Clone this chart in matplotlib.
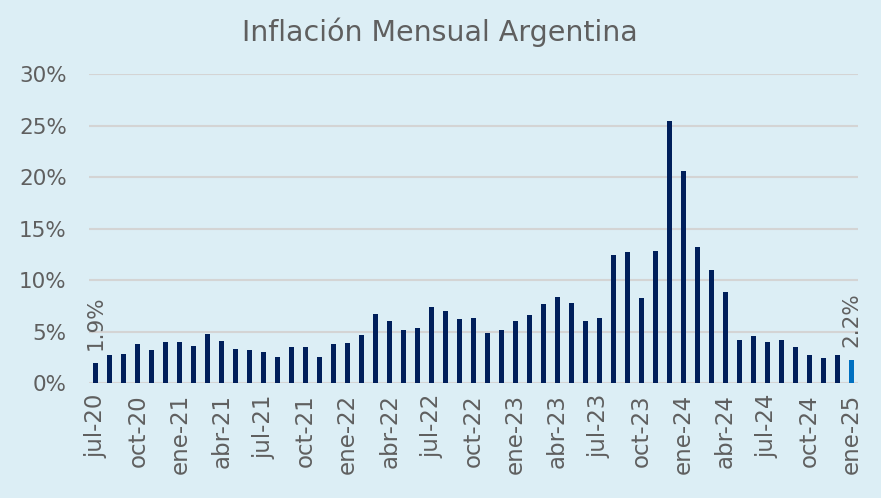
import matplotlib.pyplot as plt
import numpy as np

meses = ['ene', 'feb', 'mar', 'abr', 'may', 'jun', 'jul', 'ago', 'sep', 'oct', 'nov', 'dic']
# monthly CPI, jul-20 .. ene-25 (%)
inflacion = [1.9, 2.7, 2.8, 3.8, 3.2, 4.0,
             4.0, 3.6, 4.8, 4.1, 3.3, 3.2, 3.0, 2.5, 3.5, 3.5, 2.5, 3.8,
             3.9, 4.7, 6.7, 6.0, 5.1, 5.3, 7.4, 7.0, 6.2, 6.3, 4.9, 5.1,
             6.0, 6.6, 7.7, 8.4, 7.8, 6.0, 6.3, 12.4, 12.7, 8.3, 12.8, 25.5,
             20.6, 13.2, 11.0, 8.8, 4.2, 4.6, 4.0, 4.2, 3.5, 2.7, 2.4, 2.7,
             2.2]
etiquetas = []
for i in range(len(inflacion)):
    m = (6 + i) % 12
    a = 20 + (6 + i) // 12
    etiquetas.append(f'{meses[m]}-{a}')

plt.rcParams['font.family'] = ['DejaVu Sans']
gris = '#5F5F5F'
fondo = '#DCEEF5'

fig = plt.figure(figsize=(8.81, 4.98), dpi=100, facecolor=fondo)
ax = fig.add_axes([0.101, 0.231, 0.873, 0.62], facecolor=fondo)

x = np.arange(len(inflacion))
valores = np.array(inflacion) / 100
colores = ['#001F5B'] * (len(x) - 1) + ['#0070C0']
ax.bar(x, valores, width=0.36, color=colores, zorder=3)

ax.set_xlim(-0.5, len(x) - 0.5)
ax.set_ylim(0, 0.30)
ax.set_yticks(np.arange(0, 0.31, 0.05))
ax.set_yticklabels([f'{int(round(v * 100))}%' for v in np.arange(0, 0.31, 0.05)],
                   fontsize=15.5, color=gris)
ax.set_xticks(x[::3])
ax.set_xticklabels(etiquetas[::3], rotation=90, fontsize=16.5, color=gris)
ax.tick_params(length=0, pad=8)
ax.tick_params(axis='y', pad=16)
ax.grid(axis='y', color='#D4D4D4', linewidth=1.5, zorder=0)
for s in ax.spines.values():
    s.set_visible(False)

for i in [0, len(x) - 1]:
    ax.text(x[i], valores[i] + 0.013, f'{inflacion[i]}%', rotation=90,
            ha='center', va='bottom', fontsize=15.5, color=gris)

fig.text(0.499, 0.935, 'Inflación Mensual Argentina', ha='center', va='center',
         fontsize=20.5, color=gris)

fig.savefig('out.png', dpi=100, facecolor=fondo)
